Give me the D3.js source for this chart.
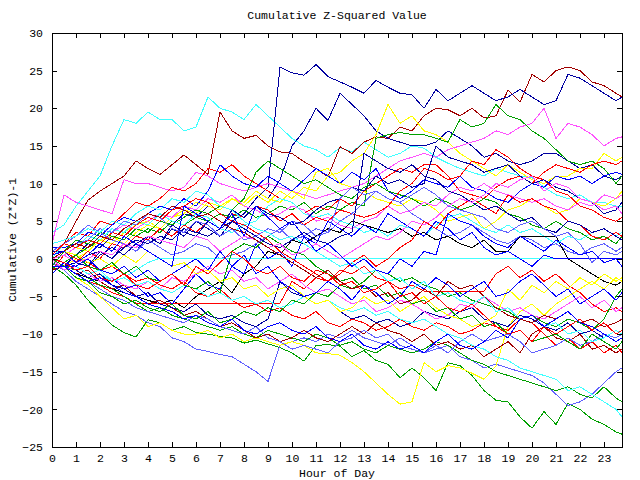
<!DOCTYPE html>
<html><head><meta charset="utf-8">
<script src="https://cdn.jsdelivr.net/npm/d3@7"></script>
<style>
body{margin:0;background:#fff}
text{font-family:"Liberation Mono","DejaVu Sans Mono",monospace;font-size:11.5px;fill:#000}
</style>
</head><body>
<script>
const titleText = "Cumulative Z-Squared Value";
const xTitle = "Hour of Day";
const yTitle = "Cumulative (Z*Z)-1";
const xTickValues = [0,1,2,3,4,5,6,7,8,9,10,11,12,13,14,15,16,17,18,19,20,21,22,23];
const yTickValues = [-25,-20,-15,-10,-5,0,5,10,15,20,25,30];
const sampleHours = [0,0.5,1,1.5,2,2.5,3,3.5,4,4.5,5,5.5,6,6.5,7,7.5,8,8.5,9,9.5,10,10.5,11,11.5,12,12.5,13,13.5,14,14.5,15,15.5,16,16.5,17,17.5,18,18.5,19,19.5,20,20.5,21,21.5,22,22.5,23,23.5,23.75];

const s1=[3.5,4.5,7,9,11,15,18.5,18, 19.5,18.5,18.5,17,17.5,21.5,20,19.5, 18.5,20.5,19,17.5,16,15,14.5,13.5, 14.8,14.2,15.5,14.5,13.5,14,15,14.7, 13.5,12.7,12,11.5,11,12,11.5,11, 10.8,9.5,8.5,8,8.5,7.5,7.5,7, 6.9];
const s2=[0,2,5,7.8,9,10,11,13, 12,11.2,12.5,13.8,12.5,11.2,19.5,17, 16,16.4,15,14.2,14,12.9,12,10.9, 14.9,14,15.5,16.2,16,17.5,17,19, 20,19.8,19,20,18.7,19,22.4,20.8, 24.5,23.5,25,25.5,25,23.5,23,22, 21.5];
const s3=[0,-1,0.5,-1,1,0,2,1, 3,2,4,3,5,4,3,5, 6,8,9.5,25.5,24.7,24.4,25.8,24.2, 23.5,22.8,22,23.7,22.8,22,21.8,20, 22.5,21,22,23,22,21,21.5,22.5, 21.5,20.5,21,24.5,24,23,22,21, 21.5];
const s4=[1,1,0.5,2,1.5,3,2.5,4, 3.5,5,4.5,6,5.5,7,6.5,8, 7.5,9,8,10.5,15,17,20,18.4, 22,20.5,19,17,16,15.5,15,15, 15.5,17,16,15,13.5,14,13,12.5, 13,14,14,13,12,12.5,11,10.5, 11];
const s5=[0,0.5,1.5,1,2.5,3,2,3.5, 4.5,4,5.5,6.5,6,7.5,7,8, 7,8.5,7.5,9,8,9.5,9,11, 11.5,13,14,16.5,20.5,18,19,17, 16.5,15.5,14,13,12,11,12.5,11.5, 10.5,10,11,11,12,12,14,13, 13.5];
const s6=[2,8.5,7.5,7,6.5,6,10.5,10, 10,9.5,9,9.5,11.5,11,10,9.5, 9,9.5,10,9.5,9,8.5,8,8.5, 9,9.5,10,11,12,13,13.5,14, 13.5,14.5,15,15.5,16,17,16.5,17.5, 18,20,16,18,17.5,16.5,15,16, 16.2];
const s7=[0,1,0.5,1.5,2.5,2,3.5,3, 4,3.5,5,4.5,5.5,5,6,5.5, 6.5,5.5,6,7,6.5,7.5,6,7, 6.5,7.5,7,16,16.5,16.8,16.5,16.5, 16,15.5,18.5,17.5,18,20.5,19,18.5, 17,16,14.5,13,12.5,13,12,10, 11];
const s8=[1,2,3.5,3,5,4.5,6,7.5, 7,8,9.5,9,10,12,11.5,12.5, 11,10,9,8,7.5,6,7,6.5, 8,7,9,10,11,12,11.5,12.5, 12.5,11,9,8.5,8,9.5,10.5,11, 10,11.5,12.5,12,11.5,12.5,13,12.5, 13];
const s9=[1.5,1.5,2,3.5,3,4.5,5.5,5, 6,7,6.5,8,7,9,12.5,11, 10,9.5,11,10,9,10.5,12,11, 10,11.5,10.5,12,9,8,9,10.5, 10,9.5,11,9.5,9,8,7.5,9, 10,9.5,11,10.5,11,10,11,11.5, 11.2];
const s10=[0,-1,0,1,2.5,2,3.5,4.5, 5,4,5.5,6,7.5,7,6.5,8, 7.5,9,8,7.5,9,8,11.5,12, 10,9.5,9,8,7.5,7,8,7.5, 6.5,5,5.5,6,4,5,6.5,7, 8,7,6,6.5,8,7.5,7,8, 9];
const s11=[-1,1,2.5,2,3.5,3,2.5,4, 3.5,5,4.5,5.5,6.5,6,7,6.5, 8,11.5,13,12,11,10,10.5,9.5, 8.5,8,9.5,10,9,8.5,8,7, 8,7.5,6.5,7,8,7.5,6,5.5, 4.5,4,5,4,3.5,2.5,3,2, 3];
const s12=[0,0.5,1.5,2.5,2,3.5,4.5,4, 5,6,5.5,7,6.5,8,7.5,8.5, 7,6.5,5.5,6,7,6.5,5,5.5, 4.5,4,5,5.5,7,6,6.5,7.5, 7,8.5,9.5,9,10,9,8.5,8, 7.5,8,7,6.5,7.5,7,8.5,8, 8.5];
const s13=[0,2,1.5,3,2.5,4,3.5,5, 4.5,6,5,4.5,6,5.5,4,3.5, 4.5,5,7,8,7.5,6,5.5,6, 5,4.5,3.5,4,3,4.5,4,3, 4.5,5.5,6,5,4,3.5,4.5,3.5, 4,3,2,3,2.5,3.5,4,3, 3.5];
const s14=[-1.5,0.5,-0.5,1,0,2,1.5,3, 2.5,4,3,4.5,3.5,5,4,6, 5.5,7,6.5,5,6,4.5,5.5,5, 6.5,6,5.5,6,7,9,10,12, 11.5,10.5,11,13,12.5,14.5,13.5,12, 11,10.5,9,8.5,7,6.5,5.5,5, 5.5];
const s15=[0,1,-0.5,-1,0.5,1.5,0.5,2, 3,2,4.5,3.5,3,5,4,6.5, 5.5,7,6,5.5,4.5,5,6.5,7.5, 8,9.5,9,11,10,10.5,9.5,10, 15,13.5,13,12.5,11.5,12,12.5,11, 10,10.5,9.5,9,8,7.5,6,6.5, 7.5];
const s16=[1,2,3,4.5,3.5,2.5,2,1, 2.5,1.5,0.5,1,2,1.5,0,0.5, 1,2,3,4,2.5,3,4,3.5, 5,6,7.5,9,8,7.5,6,5, 4,3,3.5,4.5,3.5,2.5,2,3, 2.5,1.5,2,1,0.5,1.5,2,1, 1.5];
const s17=[0,-1,-2,-2.5,-3,-4,-4.5,-5, -5.5,-6,-5.5,-6.5,-5,-4,-3,-4.5, -2,-1,1,0.5,2.5,2,3,4, 3.5,5,4.5,4,3.5,4,3,3.5, 2.5,3,2,1.5,2.5,1,1,3, 3,3,3,0,-1,-2,-3,-3.5, -3];
const s18=[0,-1,-1.5,-2.5,-2,-3,-2.5,-1.5, -0.5,0.1,0.1,0.1,0.1,0.1,0.1,0.1, 0.1,0.1,0.1,0.1,0.1,0.1,0.1,0.1, 0.1,0.1,0.1,0.1,0.1,0.1,0.1,0.1, 0.1,0.1,0.1,0.1,0.1,0.1,0.1,0.1, 0.1,0.1,0.1,0.1,0.1,0.1,0.1,0.1, 0.1];
const s19=[0,-1,-2,-3,-3.5,-4.5,-5,-5.9, -5.9,-5.9,-5.9,-5.9,-5.9,-5.9,-5.9,-5.9, -5.9,-5.9,-5.9,-5.9,-3,-4,-2.5,-3, -1.5,-2,-1,-2.5,-3,-4,-3.5,-4.3, -4.3,-4.3,-4.3,-4.3,-4.3,-2,-1,-2.5, -1.5,-3,-2,-3.5,-4.5,-6,-7,-6.5, -7];
const s20=[-1,-2,-3.5,-5.5,-7.2,-8.8,-9.8,-10.4, -8.1,-8.5,-9.5,-9,-9.8,-10,-10.3,-10.5, -11.2,-10.8,-11.3,-11.8,-12.5,-13.6,-11.5,-11.4, -11.6,-13,-12.2,-13.5,-14,-15.8,-14.5,-15.8, -17.5,-13.8,-14.2,-15.5,-17.5,-18.8,-19,-21, -22.5,-20.3,-22,-19.2,-20,-21.3,-22,-23, -23.3];
const s21=[-0.5,-1.5,-3,-4,-5,-6,-7,-7.5, -8.5,-9,-10.5,-11,-12,-12.3,-12.7,-13, -14,-15,-16.3,-11.5,-11,-10.5,-11,-10, -10.5,-9.5,-10.5,-11,-11.5,-10.5,-11.5,-12.5, -12,-11.5,-13,-13.5,-14.5,-14,-14.5,-15, -15.5,-16.5,-18,-19.5,-19,-18,-16.5,-15, -14.5];
const s22=[0,-1,-2.5,-3.5,-5,-6.5,-8,-7.5, -9,-8.5,-9.5,-10,-10,-9.5,-10.5,-10, -11,-10.5,-11,-11.5,-11,-11.5,-12.5,-12.6, -12.8,-13.8,-15,-16.5,-18,-19.3,-19,-13.8, -15,-14.2,-14.5,-15.2,-16,-14.2,-9,-7, -6,-7.5,-6,-5,-4,-3,-4,-2.5, -3];
const s23=[0,-1,-1.5,-2.5,-3.5,-4,-5,-6, -7,-6.5,-7.5,-8,-8.5,-9,-9.5,-9, -10,-10.5,-9.5,-10,-10.5,-11,-10,-10.5, -11.5,-11,-12,-12.5,-11.5,-12,-12.5,-12, -11,-11.5,-12.5,-13.5,-14,-15,-15.5,-16, -16.5,-17,-17.5,-17,-18,-18.5,-17,-18.5, -19];
const s24=[-1.5,-1,-2,-1.5,-3,-4,-3.5,-5, -6,-5.5,-6.5,-7.5,-7,-8,-9,-8.5, -9.5,-10.5,-10,-11,-10.5,-9.5,-10.5,-11, -10,-9,-10,-8.5,-9.5,-10,-11,-10, -11.5,-11,-12,-11.5,-13,-12,-11,-12.5, -10,-9,-10.5,-11,-10,-12,-11.5,-12.5, -12];
const s25=[0.5,1,0,-0.5,-1.5,-1,-2,-3, -2.5,-3.5,-4,-3,-4.5,-5,-4,-5.5, -6.5,-6,-7,-6.5,-7.5,-8,-7,-8.5, -9,-8,-8.5,-9.5,-9,-8,-9,-9.5, -8.5,-9,-10,-9.5,-8.5,-9,-9.5,-8, -8.5,-10,-11.5,-10.5,-12,-11,-12.5,-11.5, -12.5];
const s26=[0,-1,-2,-3,-4,-5,-5.5,-6.5, -7,-7.5,-8,-8.5,-7.5,-8,-9,-9.5, -10,-9,-10.5,-11,-12,-11.5,-12,-12.5, -11,-10.5,-9.5,-10.5,-10,-11.5,-12,-12.5, -11.5,-12.5,-11,-10,-11,-10.5,-10,-11, -12.5,-12,-11.5,-10.5,-11.5,-11,-10,-10.5, -10];
const s27=[0,-0.5,-1.5,-2.5,-2,-3.5,-4,-5, -4.5,-6,-6.5,-7,-6,-7.5,-8,-7.5, -8.5,-9,-8,-3,-4.5,-5,-6,-5.5, -7,-8,-7.5,-8.5,-8,-9,-8.5,-7, -7.5,-8,-7,-6.5,-8,-8.5,-9,-7.5, -8,-9,-9.5,-8.5,-10,-9.5,-10.5,-9.5, -10];
const s28=[0,-1,-1,-2,-3,-2.5,-4,-3.5, -5,-4.5,-6,-4,-2,-3.5,-4,-1, -2,2,0,1,-1,3,2,5, 4,3,4.5,3.5,6,5,4,3, 5,4,2.5,3.5,1.5,0.5,1,0, -1,0.5,0,0,0,0,0,0, 0];
const s29=[0,-1.5,-1,-2,-3,-2.5,-3.5,-4, -3,-4,-2.5,-3,-2,-1,-2,-1.5, -3,-2.5,-4,-3,-2,-3.5,-4.5,-4, -5,-6,-5.5,-7,-6.5,-5.5,-6,-7, -8,-7.5,-6,-6.5,-5,-6,-7,-6.5, -7.5,-8,-7,-6,-5,-6.5,-5.5,-7, -6.5];
const s30=[0,-0.5,-1,-2,-1.5,-3,-2.5,-3.5, -3,-4,-4.5,-3.5,-4,-5,-4.5,-5.5, -5,-6,-5.5,-6.5,-6,-5,-6,-5.5, -6.5,-7,-6.5,-7.5,-7,-8,-8.5,-8, -9,-10,-10.5,-11.5,-12,-13,-13.5,-14.5, -15,-15.5,-16,-17.5,-17,-18,-19,-20, -21];
const s31=[0,1,0.5,-0.5,0,-1,0.5,-0.5, 1,0,-1,-0.5,-2,-1.5,-3,-2.5, -4,-3.5,-5,-4,-3.5,-5,-6,-5.5, -7,-6.5,-5,-6,-5.5,-7,-6,-5, -6.5,-7.5,-8,-9,-8.5,-7.5,-4,-5.5, -3.5,-4.5,-3,-4,-2.5,-3.5,-2,-3, -2.5];
const s32=[0,-0.5,0.5,-1,-1.5,-0.5,-2,-1, -2.5,-3,-2,-3.5,-4,-3,-4.5,1, 2,1.5,3,2,1,0.5,-1,-2, -3,-2.5,-4,-3.5,-5,-4.5,-6,-5.5, -7,-6.5,-8,-7.5,-9,-8.5,-10,-9.5, -11,-10.5,-10,-11,-12,-10,-11,-12, -11];
const s33=[0.5,2,1.5,2.5,2,3.5,3,4.5, 5.5,5,6.5,7,8,7.5,6,5, 4.5,3.5,2.5,1,0,-1,-2,-3, -2,-0.5,0.5,-1,0,1.5,2.5,5, 4,6,7,8,7,6,8.5,7.5, 8,7,6.5,5,4.5,3,2.5,3.5, 3];
const s34=[0,-1,-0.5,0.5,1,0,1.5,2.5, 2,3,2.5,4,3.5,3,4,5, 4,3,2,1.5,2.5,3.5,2.5,2, 3,3.5,14,13,12,11.5,12.5,11, 10.5,9,8.5,7.5,6.5,7,6,5, 5.5,4,3.5,5,4.5,3.5,4,3, 2.5];
const s35=[0,1,2,2.5,4,3.5,5,4.5, 6,5.5,4,3.5,5,4.5,3,4, 2.5,3,4,3.5,5,4.5,3,3.5, 8,9.5,8.5,9,8,7.5,8.5,9.5, 8.5,7,6.5,6,5.5,4,3.5,4.5, 5,4,3,3.5,2,-0.5,1,0.5, 1];
const s36=[0,-1,-2.5,-3,-4.5,-5,-6,-5.5, -6.5,-7,-6,-7.5,-8,-7,-8.5,-8, -7,-7.5,-6.5,-7,-5.5,-6,-4.5,-5, -3.5,-4,-3,-1.5,-2,-3,-2.5,-3.5, -4,-5,-4.5,-5.5,-6,-6.5,-7,-8, -7.5,-8.5,-9,-8,-8.5,-9.5,-8,-5, -4];
const s37=[0,0.5,-0.5,0,1,0.5,2,1.5, 3,2.5,2,1.5,3,2.5,1,2, 3,2.5,1.5,2,0.5,1,2,1, 0,1,2,3,2.5,3.5,5,4.5, 5.5,7,8,7.5,8.5,10,9.5,10.5, 11,9,10,9.5,8,7.5,6.5,7, 6];
const s38=[0,1,2,1.5,3,2.5,4,5, 6,5.5,7,6.5,5.5,6,5,4, 3.5,2.5,1.5,0.5,-0.5,-1.5,-2.5,-1.5, -3,-4,-3.5,-5,-4.5,-6,-5.5,-4, -5,-3,-4,-3.5,-5,-6.5,-7.5,-8, -8.5,-7.5,-8,-7,-8.5,-8,-9,-8.5, -8];
const s39=[-2,-0.5,-1,0,-1.5,-2,-1,-2.5, -1.5,-3,-2,-1,0,-1.5,1,-1, 0.5,-2,-1,-3,-4,-5,-4.5,-3, -4,-5.5,-3.5,-4.5,-6,-5,-3,-4, -2.5,-3.5,-5,-4,-3,-5,-4.5,-3, -2,-3.5,-5,-4,-6,-5,-4,-5.5, -4.5];
const s40=[2,2.5,3,4,3.5,5,4.5,6, 7,6.5,8,7.5,9,8.5,7,6.5, 5,4,3.5,2.5,3,2,1,0, -1,-0.5,-2,-1.5,-3,-2.5,-4,-3, -5,-4.5,-5.5,-6,-5,-7,-6.5,-8, -7.5,-9,-8.5,-10,-9.5,-11,-10.5,-9.5, -10];
const s41=[0,-0.5,-1.5,-1,-2.5,-3,-2,-3.5, -4,-3,-2,-3.5,-1,-2,-0.5,1, 0,-1.5,-2,-1,-2.5,-3,-1.5,-2, -3.5,-3,-4.5,-4,-3,-5,-4.5,-6, -5,-6.5,-7,-6,-7.5,-9,-10,-9.5, -11,-9,-10,-9,-8,-9.5,-8.5,-10, -9.5];
const s42=[0.5,1,-0.5,0.5,2,1,3,2, 1,0,-1,7,6,5,4,6, 3,7,5.5,4,5,3,1,2, 0.5,-1,0,-1.5,-2,0,-1,1, 0.5,6,5,4.5,3,2,1.5,3, 2,1,2.5,1.5,0.5,1,-0.5,0, -1];
const s43=[-1,-1,-2,-3,-2.5,-3.5,-4.5,-5, -6,-6.5,-7,-8,-7.5,-8.5,-9,-8, -9.5,-10,-9,-8.5,-9.5,-10,-9,-10.5, -11,-10,-11.5,-12,-11,-12,-11.5,-12.5, -11,-10,-11.5,-12,-11,-9.5,-10.5,-8, -7.5,-9,-8,-7,-8.5,-9,-10,-11, -10.5];

const seriesValues = [s1,s2,s3,s4,s5,s6,s7,s8,s9,s10,s11,s12,s13,s14,s15,s16,s17,s18,s19,s20,s21,s22,s23,s24,s25,s26,s27,s28,s29,s30,s31,s32,s33,s34,s35,s36,s37,s38,s39,s40,s41,s42,s43];
const seriesColorNames = ["cyan","darkred","navy","navy","yellow","magenta","green","red","blue","yellow","green","magenta","cyan","red","navy","lightblue","black","cyan","red","green","lightblue","yellow","green","darkred","red","lightblue","navy","blue","magenta","cyan","yellow","green","red","navy","lightblue","green","magenta","darkred","blue","cyan","red","blue","blue"];
const palette = {red:"#ff0000",darkred:"#a00000",green:"#00a000",blue:"#0000ff",navy:"#0000a0",lightblue:"#6060ff",magenta:"#ff50ff",cyan:"#40ffff",yellow:"#ffff00",black:"#000000"};

const W = 640, H = 480;
const L = 52, R = 622, T = 33, B = 447;

const svg = d3.select("body").append("svg").attr("width", W).attr("height", H);
const x = d3.scaleLinear().domain([0, 23.75]).range([L, R]);
const y = d3.scaleLinear().domain([-25, 30]).range([B, T]);

svg.append("defs").append("clipPath").attr("id","plot")
  .append("rect").attr("x", L).attr("y", T).attr("width", R-L).attr("height", B-T);

const line = d3.line().x((d,i) => x(sampleHours[i])).y(d => y(d));
const g = svg.append("g").attr("clip-path","url(#plot)");
seriesValues.forEach((vals, k) => {
  g.append("path").datum(vals)
    .attr("d", line)
    .attr("fill","none")
    .attr("stroke", palette[seriesColorNames[k]])
    .attr("stroke-width", 1)
    .attr("shape-rendering","crispEdges");
});

const tick = 5;
const axB = svg.append("g").attr("transform",`translate(0,${B})`)
  .call(d3.axisBottom(x).tickValues(xTickValues).tickFormat(d3.format("d")).tickSize(-tick).tickPadding(7));
const axT = svg.append("g").attr("transform",`translate(0,${T})`)
  .call(d3.axisTop(x).tickValues(xTickValues).tickFormat("").tickSize(-tick));
const axL = svg.append("g").attr("transform",`translate(${L},0)`)
  .call(d3.axisLeft(y).tickValues(yTickValues).tickFormat(d3.format("d")).tickSize(-tick).tickPadding(9));
const axR = svg.append("g").attr("transform",`translate(${R},0)`)
  .call(d3.axisRight(y).tickValues(yTickValues).tickFormat("").tickSize(-tick));
[axB,axT,axL,axR].forEach(a => {
  a.select(".domain").remove();
  a.selectAll("line").attr("stroke","#000").attr("shape-rendering","crispEdges");
  a.selectAll("text").attr("font-family",null).attr("font-size",null).attr("fill","#000");
});

svg.append("rect").attr("x", L).attr("y", T).attr("width", R-L).attr("height", B-T)
  .attr("fill","none").attr("stroke","#000").attr("stroke-width",1).attr("shape-rendering","crispEdges");

svg.append("text").attr("x", (L+R)/2).attr("y", 19).attr("text-anchor","middle").text(titleText);
svg.append("text").attr("x", (L+R)/2).attr("y", 477).attr("text-anchor","middle").text(xTitle);
svg.append("text").attr("transform","translate(16,240) rotate(-90)").attr("text-anchor","middle").text(yTitle);
</script>
</body></html>
